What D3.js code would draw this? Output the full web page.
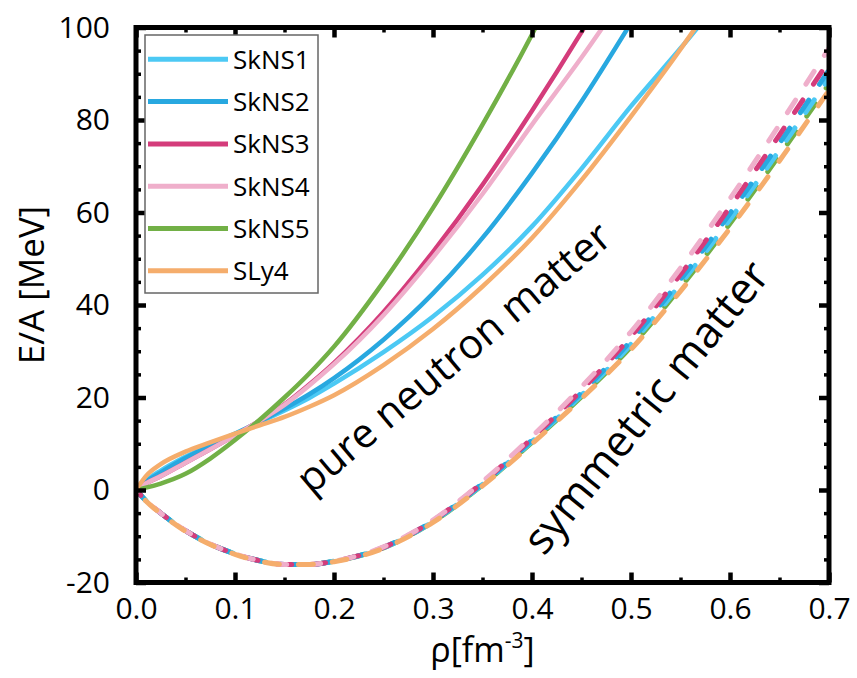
<!DOCTYPE html>
<html>
<head>
<meta charset="utf-8">
<script src="https://cdn.jsdelivr.net/npm/d3@7"></script>
<style>
    body { margin: 0; background: #fff; }
    text { font-family: 'Open Sans', sans-serif; }
</style>
</head>
<body>
<div id="chart-area"></div>
<script>
// density grid (fm^-3)
var rho = [0, 0.01, 0.025, 0.05, 0.075, 0.1, 0.125, 0.15, 0.175, 0.2, 0.25, 0.3, 0.35, 0.4, 0.45, 0.5, 0.55, 0.6, 0.65, 0.7];

var names = ['SkNS1', 'SkNS2', 'SkNS3', 'SkNS4', 'SkNS5', 'SLy4'];
var colors = ['#4cc9f4', '#28a8e0', '#d43c7b', '#efafcb', '#72b046', '#f5ad6c'];

// pure neutron matter E/A (MeV), read along rho until past 100
var pnmSkNS1 = [0, 2.0, 4.2, 7.2, 9.8, 12.2, 14.7, 17.2, 19.9, 23.0, 29.8, 37.5, 46.5, 57.0, 69.5, 83.0, 95.5, 108.5];
var pnmSkNS2 = [0, 1.8, 3.8, 6.9, 9.6, 12.1, 14.8, 17.6, 20.7, 24.2, 32.5, 42.5, 54.5, 68.5, 84.0, 101.0];
var pnmSkNS3 = [0, 1.4, 3.0, 5.9, 8.8, 11.8, 15.0, 18.5, 22.8, 27.5, 38.5, 51.5, 66.0, 82.0, 99.0, 117.0];
var pnmSkNS4 = [0, 1.4, 3.0, 5.9, 8.8, 11.8, 15.0, 18.4, 22.6, 27.2, 37.8, 50.3, 64.0, 79.0, 93.5, 109.0];
var pnmSkNS5 = [0, 0.5, 1.4, 3.5, 6.8, 10.8, 15.2, 20.0, 25.2, 31.0, 45.0, 61.0, 79.0, 98.5, 120.0];
var pnmSLy4 = [0, 3.0, 5.6, 8.3, 10.3, 12.2, 14.0, 15.8, 18.0, 20.5, 27.0, 34.8, 44.0, 54.5, 67.0, 80.8, 95.3, 111.0];

// symmetric matter E/A (MeV)
var snmSkNS1 = [0, -2.3, -5.0, -8.8, -11.7, -13.8, -15.3, -16.1, -16.1, -15.4, -12.5, -6.8, 1.2, 10.5, 20.5, 31.5, 44.5, 58.5, 73.5, 89.0];
var snmSkNS2 = [0, -2.3, -5.0, -8.8, -11.7, -13.8, -15.3, -16.1, -16.1, -15.4, -12.4, -6.7, 1.4, 10.8, 21.0, 32.3, 45.5, 59.8, 75.0, 90.8];
var snmSkNS3 = [0, -2.3, -5.0, -8.8, -11.7, -13.8, -15.3, -16.1, -16.1, -15.4, -12.4, -6.6, 1.6, 11.2, 21.6, 33.2, 46.6, 61.2, 76.8, 92.8];
var snmSkNS4 = [0, -2.3, -5.0, -8.8, -11.7, -13.8, -15.3, -16.1, -16.1, -15.4, -12.3, -6.5, 1.8, 11.6, 22.3, 34.2, 48.0, 63.0, 79.0, 95.5];
var snmSkNS5 = [0, -2.3, -5.0, -8.8, -11.7, -13.8, -15.3, -16.1, -16.1, -15.4, -12.5, -6.9, 1.1, 10.3, 20.2, 31.0, 43.8, 57.6, 72.4, 87.8];
var snmSLy4 = [0, -2.4, -5.1, -8.9, -11.8, -13.9, -15.4, -16.1, -16.1, -15.5, -12.6, -7.0, 0.9, 10.0, 19.8, 30.4, 43.0, 56.6, 71.2, 86.4];

var pnm = [pnmSkNS1, pnmSkNS2, pnmSkNS3, pnmSkNS4, pnmSkNS5, pnmSLy4];
var snm = [snmSkNS1, snmSkNS2, snmSkNS3, snmSkNS4, snmSkNS5, snmSLy4];

var xTicks = [0, 0.1, 0.2, 0.3, 0.4, 0.5, 0.6, 0.7];
var xMinor = [0.05, 0.15, 0.25, 0.35, 0.45, 0.55, 0.65];
var yTicks = [-20, 0, 20, 40, 60, 80, 100];
var yMinor = [-15, -10, -5, 5, 10, 15, 25, 30, 35, 45, 50, 55, 65, 70, 75, 85, 90, 95];

var width = 857;
var height = 678;

var svg = d3.select('#chart-area')
    .append('svg')
    .attr('width', width)
    .attr('height', height);

var x = d3.scaleLinear().domain([0, 0.7]).range([136, 829]);
var y = d3.scaleLinear().domain([-20, 100]).range([582.5, 27.5]);

svg.append('clipPath')
    .attr('id', 'plot-clip')
    .append('rect')
    .attr('x', x(0))
    .attr('y', y(100))
    .attr('width', x(0.7) - x(0))
    .attr('height', y(-20) - y(100));

var line = d3.line()
    .x(function (d) { return x(d[0]); })
    .y(function (d) { return y(d[1]); })
    .curve(d3.curveMonotoneX);

function pairs(vals) {
    return vals.map(function (v, i) { return [rho[i], v]; });
}

var plot = svg.append('g').attr('clip-path', 'url(#plot-clip)');

// symmetric matter, dashed (small phase shifts so the colours interleave)
var dashShift = [0, 4, 8, 13, 2, 20];
[4, 0, 1, 2, 3, 5].forEach(function (i) {
    plot.append('path')
        .attr('d', line(pairs(snm[i])))
        .attr('fill', 'none')
        .attr('stroke', colors[i])
        .attr('stroke-width', 5)
        .attr('stroke-linecap', 'round')
        .attr('stroke-dasharray', '15,19')
        .attr('stroke-dashoffset', dashShift[i]);
});

// pure neutron matter, solid
pnm.forEach(function (vals, i) {
    plot.append('path')
        .attr('d', line(pairs(vals)))
        .attr('fill', 'none')
        .attr('stroke', colors[i])
        .attr('stroke-width', 4.5);
});

// axes with inward ticks on all sides
function styleAxis(g, major) {
    g.select('.domain').remove();
    g.selectAll('.tick line')
        .attr('stroke', '#000')
        .attr('stroke-width', major ? 4.5 : 3.5);
    g.selectAll('.tick text')
        .attr('fill', '#000')
        .attr('font-size', 30)
        .attr('font-family', "'Open Sans', sans-serif");
}

svg.append('g')
    .attr('transform', 'translate(0,' + y(-20) + ')')
    .call(d3.axisBottom(x).tickValues(xTicks).tickFormat(d3.format('.1f')).tickSize(-10).tickPadding(15))
    .call(styleAxis, true);
svg.append('g')
    .attr('transform', 'translate(0,' + y(-20) + ')')
    .call(d3.axisBottom(x).tickValues(xMinor).tickFormat('').tickSize(-5))
    .call(styleAxis, false);
svg.append('g')
    .attr('transform', 'translate(0,' + y(100) + ')')
    .call(d3.axisTop(x).tickValues(xTicks).tickFormat('').tickSize(-10))
    .call(styleAxis, true);
svg.append('g')
    .attr('transform', 'translate(0,' + y(100) + ')')
    .call(d3.axisTop(x).tickValues(xMinor).tickFormat('').tickSize(-5))
    .call(styleAxis, false);

svg.append('g')
    .attr('transform', 'translate(' + x(0) + ',0)')
    .call(d3.axisLeft(y).tickValues(yTicks).tickFormat(function (d) { return String(d); }).tickSize(-10).tickPadding(26))
    .call(styleAxis, true);
svg.append('g')
    .attr('transform', 'translate(' + x(0) + ',0)')
    .call(d3.axisLeft(y).tickValues(yMinor).tickFormat('').tickSize(-5))
    .call(styleAxis, false);
svg.append('g')
    .attr('transform', 'translate(' + x(0.7) + ',0)')
    .call(d3.axisRight(y).tickValues(yTicks).tickFormat('').tickSize(-10))
    .call(styleAxis, true);
svg.append('g')
    .attr('transform', 'translate(' + x(0.7) + ',0)')
    .call(d3.axisRight(y).tickValues(yMinor).tickFormat('').tickSize(-5))
    .call(styleAxis, false);

// frame
svg.append('rect')
    .attr('x', x(0))
    .attr('y', y(100))
    .attr('width', x(0.7) - x(0))
    .attr('height', y(-20) - y(100))
    .attr('fill', 'none')
    .attr('stroke', '#000')
    .attr('stroke-width', 5);

// axis titles
var xTitle = svg.append('text')
    .attr('x', (x(0) + x(0.7)) / 2)
    .attr('y', 662)
    .attr('text-anchor', 'middle')
    .attr('font-size', 34);
xTitle.append('tspan').text('ρ[fm');
xTitle.append('tspan').attr('font-size', 21).attr('dy', -14).text('-3');
xTitle.append('tspan').attr('dy', 14).text(']');

svg.append('text')
    .attr('transform', 'translate(44,285) rotate(-90)')
    .attr('text-anchor', 'middle')
    .attr('font-size', 35)
    .text('E/A [MeV]');

// annotations
svg.append('text')
    .attr('transform', 'translate(' + x(0.177) + ',' + y(-1.2) + ') rotate(-40)')
    .attr('font-size', 41)
    .text('pure neutron matter');

svg.append('text')
    .attr('transform', 'translate(' + x(0.412) + ',' + y(-14.5) + ') rotate(-51)')
    .attr('font-size', 43.5)
    .text('symmetric matter');

// legend
var legend = svg.append('g');
legend.append('rect')
    .attr('x', 145)
    .attr('y', 35)
    .attr('width', 173)
    .attr('height', 258)
    .attr('fill', '#fff')
    .attr('stroke', '#666')
    .attr('stroke-width', 1.5);

names.forEach(function (name, i) {
    var ly = 59.3 + i * 42.3;
    legend.append('line')
        .attr('x1', 148)
        .attr('x2', 228)
        .attr('y1', ly)
        .attr('y2', ly)
        .attr('stroke', colors[i])
        .attr('stroke-width', 5);
    legend.append('text')
        .attr('x', 233)
        .attr('y', ly)
        .attr('dy', '0.36em')
        .attr('font-size', 26)
        .text(name);
});
</script>
</body>
</html>
